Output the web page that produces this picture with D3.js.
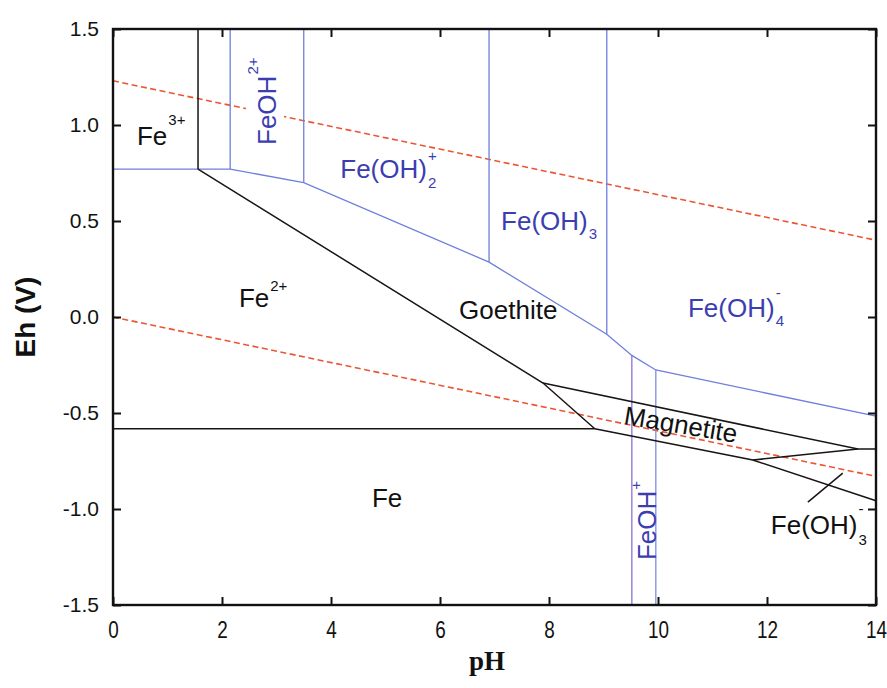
<!DOCTYPE html>
<html>
<head>
<meta charset="utf-8">
<script src="https://cdn.jsdelivr.net/npm/d3@7"></script>
<style>
  html, body { margin: 0; padding: 0; background: #fff; }
  svg { display: block; }
</style>
</head>
<body>
<svg id="chart" width="887" height="688"></svg>
<script>
// Eh–pH (Pourbaix) diagram for the Fe–H2O system

const phTicks = [0, 2, 4, 6, 8, 10, 12, 14];
const ehTicks = [-1.5, -1.0, -0.5, 0.0, 0.5, 1.0, 1.5];

// Solid-phase / ferrous boundaries, [pH, Eh]
const fe3Fe2Boundary = [[1.56, 1.5], [1.56, 0.77]];
const fe2GoethiteBoundary = [[1.56, 0.77], [7.89, -0.344], [8.84, -0.582]];
const feFe2Boundary = [[0, -0.582], [8.84, -0.582]];
const goethiteMagnetiteBoundary = [[7.89, -0.344], [13.67, -0.688], [14, -0.688]];
const magnetiteFeBoundary = [[8.84, -0.582], [11.74, -0.745], [14, -0.957]];
const magnetiteFeOH3Boundary = [[11.74, -0.745], [13.67, -0.688]];
const feOH3LeaderLine = [[12.75, -0.964], [13.39, -0.813]];

// Ferric aqueous species boundary and their vertical dividers
const ferricBoundary = [[0, 0.77], [2.15, 0.77], [3.5, 0.70], [6.9, 0.286], [9.06, -0.09],
                        [9.52, -0.20], [9.96, -0.276], [14, -0.516]];
const ferricDividers = [[2.15, 0.77], [3.5, 0.70], [6.9, 0.286], [9.06, -0.09]];
const ferrousDividers = [[9.52, -0.20], [9.96, -0.276]];

// Water stability limits
const waterUpper = [[0, 1.23], [14, 0.40]];
const waterLower = [[0, 0.0], [14, -0.83]];

// Region labels
const regionLabels = [
  { text: "Fe", sup: "3+", ph: 0.44, eh: 0.896, color: "#111", supDy: -20 },
  { text: "FeOH", sup: "2+", ph: 2.99, eh: 0.896, color: "#3b3db0", rotate: -90, supDy: -18, box: true },
  { text: "Fe(OH)", sub: "2", sup: "+", ph: 4.17, eh: 0.724, color: "#3b3db0", subDy: 10, supDy: -17 },
  { text: "Fe(OH)", sub: "3", ph: 7.12, eh: 0.453, color: "#3b3db0", subDy: 9 },
  { text: "Fe(OH)", sub: "4", sup: "-", ph: 10.55, eh: 0.0, color: "#3b3db0", subDy: 9, supDy: -19 },
  { text: "Fe", sup: "2+", ph: 2.31, eh: 0.052, color: "#111", supDy: -16 },
  { text: "Goethite", ph: 6.35, eh: -0.010, color: "#111" },
  { text: "Magnetite", ph: 9.36, eh: -0.557, color: "#111", rotate: 9.5 },
  { text: "Fe", ph: 4.75, eh: -0.99, color: "#111" },
  { text: "FeOH", sup: "+", ph: 9.96, eh: -1.266, color: "#3b3db0", rotate: -90, supDy: -15 },
  { text: "Fe(OH)", sub: "3", sup: "-", ph: 12.07, eh: -1.13, color: "#111", subDy: 11, supDy: -20 }
];

(function () {
  const svg = d3.select("#chart");
  const sans = "Arial, 'Liberation Sans', Helvetica, sans-serif";
  const mLeft = 113, mRight = 876, mTop = 29, mBottom = 605;

  const x = d3.scaleLinear().domain([0, 14]).range([mLeft, mRight]);
  const y = d3.scaleLinear().domain([-1.5, 1.5]).range([mBottom, mTop]);
  const line = d3.line().x(d => x(d[0])).y(d => y(d[1]));

  const plot = svg.append("g");

  // water lines
  [waterUpper, waterLower].forEach(d => {
    plot.append("path").attr("d", line(d))
      .attr("fill", "none").attr("stroke", "#ec5534")
      .attr("stroke-width", 1.6).attr("stroke-dasharray", "6,3.5");
  });

  // ferric aqueous boundary
  plot.append("path").attr("d", line(ferricBoundary))
    .attr("fill", "none").attr("stroke", "#6f7fdc").attr("stroke-width", 1.3);

  ferricDividers.forEach(p => {
    plot.append("path").attr("d", line([p, [p[0], 1.5]]))
      .attr("fill", "none").attr("stroke", "#6f7fdc").attr("stroke-width", 1.3);
  });

  const ferrousColors = ["#8a72d6", "#7b8ee2"];
  ferrousDividers.forEach((p, i) => {
    plot.append("path").attr("d", line([p, [p[0], -1.5]]))
      .attr("fill", "none").attr("stroke", ferrousColors[i]).attr("stroke-width", 1.3);
  });

  // solid-phase boundaries
  [fe3Fe2Boundary, fe2GoethiteBoundary, feFe2Boundary, goethiteMagnetiteBoundary,
   magnetiteFeBoundary, magnetiteFeOH3Boundary, feOH3LeaderLine].forEach(d => {
    plot.append("path").attr("d", line(d))
      .attr("fill", "none").attr("stroke", "#1a1414").attr("stroke-width", 1.5);
  });

  // labels
  const labelLayer = svg.append("g").attr("font-family", sans);
  regionLabels.forEach(l => {
    const g = labelLayer.append("g")
      .attr("transform", `translate(${x(l.ph)},${y(l.eh)})` + (l.rotate ? ` rotate(${l.rotate})` : ""));
    const main = g.append("text").attr("x", 0).attr("y", 0)
      .attr("font-size", 26).attr("fill", l.color).text(l.text);
    const len = main.node().getComputedTextLength();
    if (l.box) {
      g.insert("rect", "text").attr("x", -4).attr("y", -30)
        .attr("width", len + 30).attr("height", 38).attr("fill", "#fff");
    }
    if (l.sub) {
      g.append("text").attr("x", len + 1).attr("y", l.subDy)
        .attr("font-size", 15).attr("fill", l.color).text(l.sub);
    }
    if (l.sup) {
      g.append("text").attr("x", len + 1).attr("y", l.supDy)
        .attr("font-size", 15).attr("fill", l.color).text(l.sup);
    }
  });

  // axes (ASCII hyphen for negative values)
  const ehFormat = d => d3.format(".1f")(d).replace("\u2212", "-");
  const axisG = svg.append("g");
  const xAxisG = axisG.append("g").attr("transform", `translate(0,${mBottom})`)
    .call(d3.axisBottom(x).tickValues(phTicks).tickSize(-8).tickPadding(15).tickFormat(d3.format("d")));
  axisG.append("g").attr("transform", `translate(0,${mTop})`)
    .call(d3.axisTop(x).tickValues(phTicks).tickSize(-8).tickFormat(""));
  axisG.append("g").attr("transform", `translate(${mLeft},0)`)
    .call(d3.axisLeft(y).tickValues(ehTicks).tickSize(-8).tickPadding(14).tickFormat(ehFormat));
  axisG.append("g").attr("transform", `translate(${mRight},0)`)
    .call(d3.axisRight(y).tickValues(ehTicks).tickSize(-8).tickFormat(""));

  axisG.selectAll(".domain").remove();
  axisG.selectAll(".tick line").attr("stroke", "#111").attr("stroke-width", 2);
  axisG.selectAll(".tick text").attr("font-size", 21).attr("fill", "#111")
    .attr("font-family", sans);
  xAxisG.selectAll(".tick text").attr("transform", "scale(0.9,1.1)");

  // frame
  svg.append("rect").attr("x", mLeft).attr("y", mTop)
    .attr("width", mRight - mLeft).attr("height", mBottom - mTop)
    .attr("fill", "none").attr("stroke", "#111").attr("stroke-width", 2.4);

  // axis titles
  svg.append("text").attr("transform", `translate(35,${(mTop + mBottom) / 2}) rotate(-90)`)
    .attr("text-anchor", "middle").attr("font-size", 28).attr("font-weight", "bold")
    .attr("font-family", sans).attr("fill", "#111").text("Eh (V)");
  svg.append("text").attr("x", 487).attr("y", 670)
    .attr("text-anchor", "middle").attr("font-size", 27).attr("font-weight", "bold")
    .attr("font-family", "'Liberation Serif', 'Times New Roman', serif")
    .attr("fill", "#111").text("pH");
})();
</script>
</body>
</html>
